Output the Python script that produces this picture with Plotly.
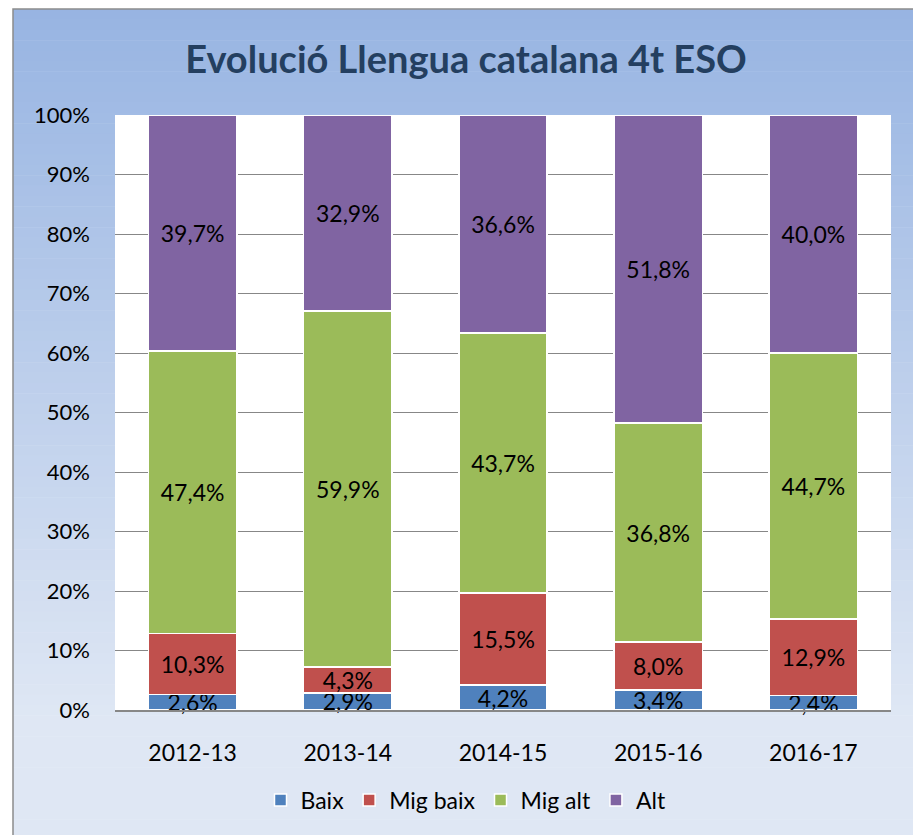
import plotly.graph_objects as go

categories = ["2012-13", "2013-14", "2014-15", "2015-16", "2016-17"]
baix = [2.6, 2.9, 4.2, 3.4, 2.4]
mig_baix = [10.3, 4.3, 15.5, 8.0, 12.9]
mig_alt = [47.4, 59.9, 43.7, 36.8, 44.7]
alt = [39.7, 32.9, 36.6, 51.8, 40.0]
series_names = ["Baix", "Mig baix", "Mig alt", "Alt"]
series_colors = ["#4F81BD", "#C0504D", "#9BBB59", "#8064A2"]
title_text = "Evolució Llengua catalana 4t ESO"

W, H = 913, 835
L, R, T, B = 115, 891, 115, 710  # plot area in px
FONT = "Lato"

def px_x(px):
    return (px - L) / (R - L)

def px_y(py):
    return (B - py) / (B - T)

fig = go.Figure()
for name, vals, col in zip(series_names, [baix, mig_baix, mig_alt, alt], series_colors):
    fig.add_trace(go.Bar(
        x=categories, y=vals, name=name,
        marker=dict(color=col, line=dict(color="white", width=1.5)),
        texttemplate="%{y:.1f}%", textposition="inside", insidetextanchor="middle",
        textfont=dict(family=FONT, size=23, color="black"),
        constraintext="none", cliponaxis=False, hoverinfo="skip",
    ))

# gradient background of chart frame (styling)
shapes = []
top_px, bot_px = 9, 840
n = 80
c0 = (0x97, 0xB4, 0xE2)
c1 = (0xDF, 0xE7, 0xF4)
for i in range(n):
    y0p = top_px + (bot_px - top_px) * i / n
    y1p = top_px + (bot_px - top_px) * (i + 1) / n
    t = min(1.0, (i + 0.5) / n / 0.85)
    c = tuple(int(round(a + (b - a) * t)) for a, b in zip(c0, c1))
    shapes.append(dict(type="rect", xref="paper", yref="paper", layer="below",
                       x0=px_x(13), x1=px_x(930), y0=px_y(y1p + 0.5), y1=px_y(y0p),
                       line=dict(width=0), fillcolor="rgb(%d,%d,%d)" % c))
shapes.append(dict(type="rect", xref="paper", yref="paper", layer="below",
                   x0=0, x1=1, y0=0, y1=1, line=dict(width=0), fillcolor="white"))
shapes.append(dict(type="rect", xref="paper", yref="paper", layer="below",
                   x0=px_x(13), x1=px_x(940), y0=px_y(850), y1=px_y(9),
                   line=dict(color="#8C8C8C", width=1.5), fillcolor="rgba(0,0,0,0)"))

fig.update_layout(
    width=W, height=H,
    margin=dict(l=L, r=W - R, t=T, b=H - B),
    paper_bgcolor="white", plot_bgcolor="white",
    barmode="stack", bargap=0.43,
    separators=",.",
    font=dict(family=FONT, size=22, color="black"),
    title=dict(text="<b>" + title_text + "</b>", x=466 / W, xanchor="center",
               y=1 - 60 / H, yanchor="middle",
               font=dict(family=FONT, size=38, color="#243F60")),
    shapes=shapes,
    legend=dict(orientation="h", x=px_x(466), xanchor="center", y=px_y(800), yanchor="middle",
                font=dict(family=FONT, size=23, color="black"), bgcolor="rgba(0,0,0,0)",
                traceorder="normal", itemwidth=30),
    showlegend=True,
)
fig.update_yaxes(range=[0, 100], dtick=10, ticksuffix="%", showgrid=True,
                 gridcolor="#878787", gridwidth=1, zeroline=False, showline=False,
                 ticklabelstandoff=24, tickfont=dict(family=FONT, size=22, color="black"))
fig.update_xaxes(showline=True, linecolor="#878787", linewidth=1.5, ticks="",
                 ticklabelstandoff=22, tickfont=dict(family=FONT, size=23, color="black"))

fig.write_html("out.html", config={"displayModeBar": False},
               post_script="document.body.style.margin='0';document.body.style.padding='0';"
                           "document.documentElement.style.overflow='hidden';")
